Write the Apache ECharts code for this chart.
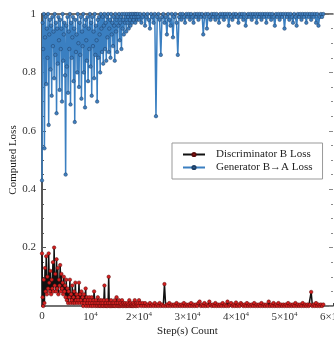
<!DOCTYPE html>
<html>
<head>
<meta charset="utf-8">
<script src="https://cdn.jsdelivr.net/npm/echarts@6/dist/echarts.min.js"></script>
<style>
  html, body { margin: 0; padding: 0; background: #fff; }
  #chart { width: 334px; height: 337px; }
</style>
</head>
<body>
<div id="chart"></div>
<script>
// logged every 125 steps up to 20000, then every 250 steps up to 58000
const denseCount = 160;
const xTicks = [0, 10000, 20000, 30000, 40000, 50000, 60000];
const yTicks = [0, 0.2, 0.4, 0.6, 0.8, 1];

const discLoss = [
  // 0 .. 19875 (step 125)
  0.18, 0.03, 0.0, 0.09, 0.01, 0.13, 0.05, 0.17, 0.04, 0.10, 0.06, 0.18, 0.08, 0.05, 0.12, 0.04, 0.09, 0.06, 0.15, 0.05,
  0.20, 0.07, 0.11, 0.05, 0.16, 0.06, 0.13, 0.04, 0.09, 0.07, 0.14, 0.05, 0.11, 0.06, 0.08, 0.04, 0.10, 0.05, 0.07, 0.03,
  0.09, 0.02, 0.06, 0.01, 0.05, 0.03, 0.09, 0.01, 0.04, 0.02, 0.07, 0.01, 0.03, 0.05, 0.01, 0.08, 0.02, 0.04, 0.01, 0.03,
  0.02, 0.08, 0.01, 0.04, 0.02, 0.05, 0.01, 0.03, 0.0, 0.04, 0.01, 0.02, 0.06, 0.0, 0.03, 0.01, 0.02, 0.0, 0.03, 0.01,
  0.02, 0.0, 0.03, 0.01, 0.0, 0.02, 0.05, 0.01, 0.0, 0.02, 0.01, 0.0, 0.03, 0.01, 0.0, 0.02, 0.0, 0.01, 0.02, 0.0,
  0.01, 0.0, 0.02, 0.07, 0.0, 0.01, 0.0, 0.02, 0.0, 0.01, 0.10, 0.0, 0.01, 0.0, 0.02, 0.0, 0.01, 0.0, 0.01, 0.0,
  0.02, 0.0, 0.01, 0.03, 0.0, 0.01, 0.0, 0.02, 0.0, 0.01, 0.0, 0.005, 0.02, 0.0, 0.01, 0.0, 0.005, 0.01, 0.0, 0.005,
  0.0, 0.01, 0.0, 0.005, 0.02, 0.0, 0.01, 0.0, 0.005, 0.0, 0.01, 0.0, 0.005, 0.02, 0.0, 0.01, 0.0, 0.005, 0.01, 0.0,
  // 20000 .. 58000 (step 250)
  0.02, 0.01, 0.0, 0.01, 0.0, 0.01, 0.0, 0.005, 0.0, 0.01, 0.0, 0.005, 0.0, 0.01, 0.0, 0.005, 0.0, 0.01, 0.0, 0.005,
  0.0, 0.075, 0.0, 0.005, 0.0, 0.01, 0.0, 0.005, 0.0, 0.005, 0.0, 0.01, 0.0, 0.005, 0.0, 0.005, 0.0, 0.01, 0.0, 0.005,
  0.0, 0.005, 0.0, 0.01, 0.0, 0.005, 0.0, 0.005, 0.0, 0.01, 0.015, 0.0, 0.005, 0.0, 0.01, 0.0, 0.005, 0.0, 0.015, 0.005,
  0.0, 0.005, 0.0, 0.01, 0.0, 0.005, 0.0, 0.005, 0.0, 0.01, 0.0, 0.005, 0.0, 0.015, 0.0, 0.005, 0.01, 0.0, 0.005, 0.0,
  0.012, 0.0, 0.005, 0.0, 0.01, 0.005, 0.0, 0.005, 0.0, 0.01, 0.0, 0.005, 0.0, 0.005, 0.0, 0.01, 0.0, 0.005, 0.0, 0.005,
  0.0, 0.01, 0.0, 0.005, 0.0, 0.005, 0.0, 0.015, 0.0, 0.005, 0.0, 0.01, 0.0, 0.005, 0.0, 0.01, 0.0, 0.005, 0.0, 0.005,
  0.0, 0.005, 0.0, 0.01, 0.0, 0.005, 0.0, 0.005, 0.0, 0.01, 0.0, 0.005, 0.0, 0.005, 0.0, 0.01, 0.0, 0.005, 0.0, 0.005,
  0.0, 0.005, 0.048, 0.0, 0.005, 0.0, 0.01, 0.0, 0.005, 0.0, 0.005, 0.0, 0.005
];

const genLoss = [
  // 0 .. 19875 (step 125)
  0.43, 0.97, 0.88, 1.0, 0.54, 0.92, 0.99, 0.76, 0.95, 0.85, 1.0, 0.62, 0.93, 0.98, 0.81, 0.96, 0.72, 0.99, 0.89, 0.94,
  0.78, 1.0, 0.86, 0.97, 0.66, 0.95, 0.83, 0.99, 0.91, 0.74, 0.98, 0.88, 0.95, 0.70, 1.0, 0.84, 0.93, 0.97, 0.79, 0.45,
  0.96, 0.82, 0.99, 0.73, 0.94, 0.88, 1.0, 0.69, 0.97, 0.85, 0.92, 0.99, 0.77, 0.95, 0.63, 0.98, 0.87, 0.93, 0.80, 1.0,
  0.90, 0.75, 0.97, 0.86, 0.99, 0.71, 0.94, 0.89, 1.0, 0.80, 0.96, 0.68, 0.98, 0.91, 0.84, 0.99, 0.77, 0.95, 0.88, 1.0,
  0.82, 0.97, 0.72, 0.99, 0.89, 0.94, 0.78, 1.0, 0.86, 0.96, 0.91, 0.70, 0.98, 0.85, 0.99, 0.93, 0.80, 1.0, 0.95, 0.87,
  0.99, 0.83, 0.96, 1.0, 0.88, 0.97, 0.84, 0.99, 0.92, 1.0, 0.87, 0.95, 0.98, 0.85, 1.0, 0.93, 0.97, 0.89, 0.99, 0.96,
  0.84, 1.0, 0.94, 0.98, 0.87, 0.99, 0.96, 1.0, 0.91, 0.97, 0.99, 0.88, 1.0, 0.95, 0.98, 0.93, 1.0, 0.97, 0.99, 0.94,
  1.0, 0.97, 0.99, 0.95, 1.0, 0.98, 0.96, 1.0, 0.99, 0.97, 1.0, 0.98, 0.99, 1.0, 0.97, 1.0, 0.99, 0.98, 1.0, 0.99,
  // 20000 .. 58000 (step 250)
  0.98, 1.0, 0.97, 0.99, 1.0, 0.96, 0.99, 1.0, 0.98, 0.95, 1.0, 0.99, 0.97, 1.0, 0.65, 0.99, 1.0, 0.98, 0.86, 0.99,
  1.0, 0.97, 0.99, 0.93, 1.0, 0.98, 0.96, 1.0, 0.92, 0.99, 1.0, 0.97, 0.86, 0.99, 1.0, 0.98, 1.0, 0.99, 0.97, 1.0,
  0.99, 1.0, 0.98, 1.0, 0.99, 0.97, 1.0, 0.99, 1.0, 0.98, 1.0, 0.99, 1.0, 0.93, 0.99, 1.0, 0.95, 1.0, 0.99, 0.98,
  1.0, 0.99, 1.0, 0.98, 1.0, 0.99, 0.97, 1.0, 0.99, 1.0, 0.98, 1.0, 0.99, 1.0, 0.96, 1.0, 0.99, 0.98, 1.0, 0.99,
  1.0, 0.99, 0.97, 1.0, 0.99, 1.0, 0.98, 1.0, 0.96, 0.99, 1.0, 0.99, 1.0, 0.98, 1.0, 0.99, 1.0, 0.97, 1.0, 0.99,
  1.0, 0.98, 1.0, 0.99, 1.0, 0.97, 1.0, 0.99, 1.0, 0.98, 1.0, 0.99, 0.96, 1.0, 0.99, 1.0, 0.98, 1.0, 0.99, 1.0,
  0.95, 1.0, 0.99, 1.0, 0.98, 1.0, 0.99, 0.97, 1.0, 0.99, 0.96, 1.0, 0.99, 1.0, 0.98, 1.0, 0.99, 1.0, 0.97, 1.0,
  0.99, 1.0, 0.98, 1.0, 0.99, 1.0, 0.97, 1.0, 0.96, 0.99, 1.0, 0.99, 1.0
];

const FONT = '"Liberation Serif", "DejaVu Serif", serif';

function stepAt(i) {
  return i < denseCount ? i * 125 : 20000 + (i - denseCount) * 250;
}

function pairs(values) {
  return values.map((v, i) => [stepAt(i), v]);
}

function xLabel(v) {
  if (v === 0) return '0';
  const n = v / 10000;
  return (n === 1 ? '' : n + '×') + '10{sup|4}';
}

var chart = echarts.init(document.getElementById('chart'));
var option = {
  animation: false,
  grid: { left: 42, right: 1, top: 14, bottom: 31, outerBoundsMode: 'none' },
  legend: {
    left: 172,
    top: 143,
    orient: 'vertical',
    padding: [6, 10, 6, 10],
    itemGap: 2,
    itemWidth: 22,
    itemHeight: 4,
    borderColor: '#999',
    borderWidth: 1,
    backgroundColor: '#fff',
    textStyle: { fontFamily: FONT, fontSize: 11, color: '#222', padding: [0, 0, 0, 6] },
    data: ['Discriminator B Loss', 'Generator B→A Loss']
  },
  xAxis: [
    {
      type: 'value',
      min: xTicks[0],
      max: xTicks[xTicks.length - 1],
      interval: 10000,
      name: 'Step(s) Count',
      nameLocation: 'middle',
      nameGap: 20,
      nameMoveOverlap: false,
      nameTextStyle: { fontFamily: FONT, fontSize: 11, color: '#222' },
      axisLine: { onZero: false, lineStyle: { color: '#444', width: 1.5 } },
      axisTick: { inside: true, length: 3, lineStyle: { color: '#444' } },
      splitLine: { show: false },
      axisLabel: {
        formatter: xLabel,
        fontFamily: FONT,
        fontSize: 11,
        color: '#333',
        margin: 5,
        hideOverlap: false,
        showMaxLabel: true,
        rich: { sup: { fontFamily: FONT, fontSize: 7, color: '#333', padding: [0, 0, 6, 0] } }
      }
    },
    {
      type: 'value',
      position: 'top',
      min: xTicks[0],
      max: xTicks[xTicks.length - 1],
      interval: 10000,
      axisLine: { show: true, onZero: false, lineStyle: { color: '#444', width: 1.5 } },
      axisTick: { show: false },
      axisLabel: { show: false },
      splitLine: { show: false }
    }
  ],
  yAxis: [
    {
      type: 'value',
      min: yTicks[0],
      max: yTicks[yTicks.length - 1],
      interval: 0.2,
      name: 'Computed Loss',
      nameLocation: 'middle',
      nameGap: 23,
      nameMoveOverlap: false,
      nameTextStyle: { fontFamily: FONT, fontSize: 11, color: '#222' },
      axisLine: { show: true, onZero: false, lineStyle: { color: '#555', width: 2 } },
      axisTick: { show: true, inside: true, length: 4, lineStyle: { color: '#555' } },
      minorTick: { show: true, splitNumber: 4, length: 2, lineStyle: { color: '#555' } },
      splitLine: { show: false },
      axisLabel: {
        formatter: v => (v === 0 ? '' : String(+v.toFixed(1))),
        fontFamily: FONT,
        fontSize: 11,
        color: '#333',
        margin: 6
      }
    },
    {
      type: 'value',
      position: 'right',
      min: yTicks[0],
      max: yTicks[yTicks.length - 1],
      interval: 0.2,
      axisLine: { show: false, onZero: false },
      axisTick: { show: true, inside: true, length: 4, lineStyle: { color: '#888' } },
      minorTick: { show: true, splitNumber: 4, length: 2, lineStyle: { color: '#888' } },
      axisLabel: { show: false },
      splitLine: { show: false }
    }
  ],
  series: [
    {
      name: 'Discriminator B Loss',
      type: 'line',
      data: pairs(discLoss),
      symbol: 'circle',
      symbolSize: 3.5,
      showAllSymbol: true,
      lineStyle: { color: '#111', width: 1.5 },
      itemStyle: { color: '#d42020', borderColor: '#5a0a0a', borderWidth: 0.5 }
    },
    {
      name: 'Generator B→A Loss',
      type: 'line',
      data: pairs(genLoss),
      symbol: 'circle',
      symbolSize: 3.5,
      showAllSymbol: true,
      lineStyle: { color: '#3a7fc1', width: 1.5 },
      itemStyle: { color: '#3f7fbf', borderColor: '#1d3f66', borderWidth: 0.5 }
    }
  ]
};
option && chart.setOption(option);
</script>
</body>
</html>
